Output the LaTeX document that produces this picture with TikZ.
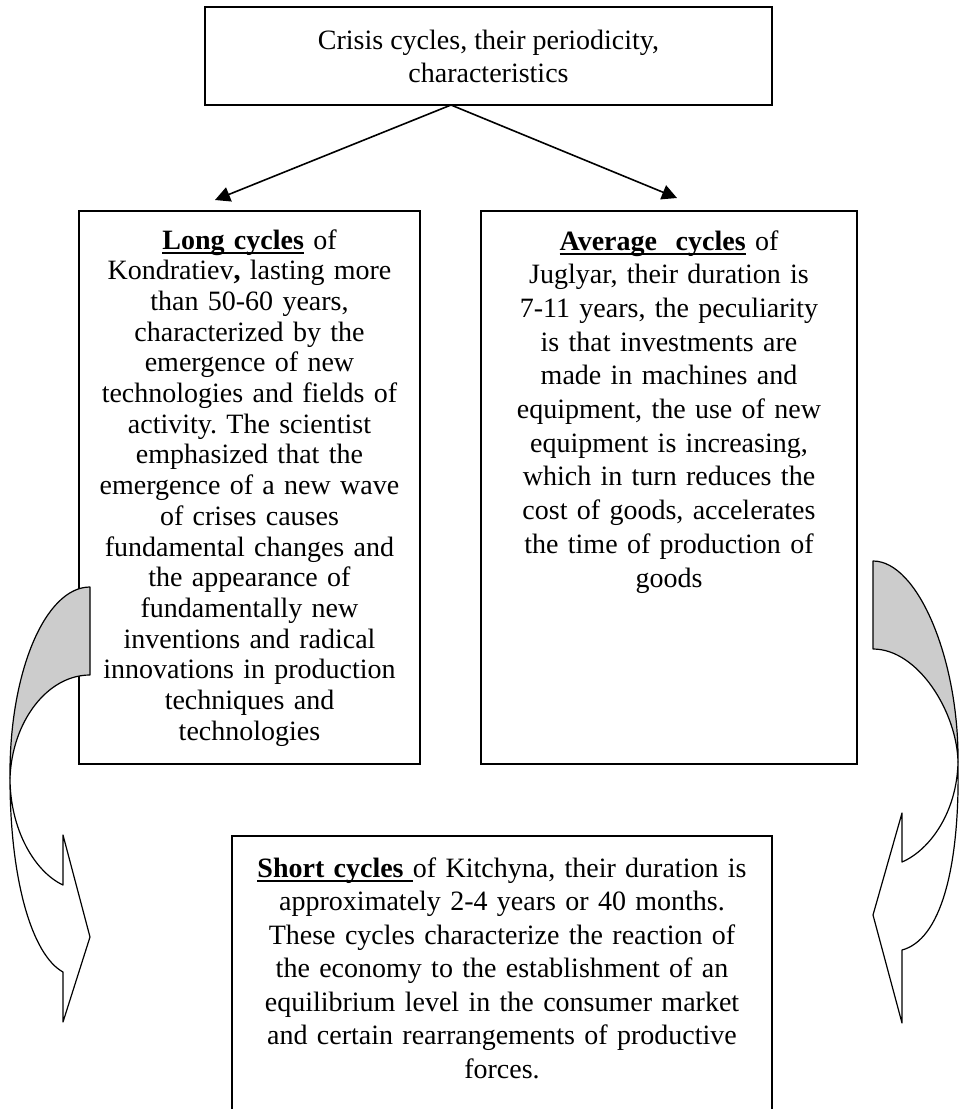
\documentclass[tikz,border=0pt]{standalone}
\usepackage{fontspec}
\setmainfont{Liberation Serif}
\frenchspacing
\newsavebox\ulbox
\newcommand\uword[1]{\sbox\ulbox{#1}\rlap{\rule[-2.5pt]{\wd\ulbox}{0.9pt}}\usebox\ulbox}
\usetikzlibrary{arrows.meta,positioning}

\begin{document}
\begin{tikzpicture}
  [x=0.5pt,y=-0.5pt,
   every node/.style={draw,rectangle,line width=0.6pt,outer sep=0pt,
     inner xsep=4pt,inner ysep=0pt,align=center},
   txt/.style={font=\fontsize{14}{#1}\selectfont},
   arr/.style={line width=0.8pt,-{Triangle[length=7.5pt,width=7.5pt]}},
   bentarrow/.style={draw,line width=0.6pt,line join=round}]
  \useasboundingbox (0,0) rectangle (964,1109);
  \clip (0,0) rectangle (964,1109);

  \node[txt=16.5pt,line width=1.1pt,minimum width=283.5pt,minimum height=49pt,
    anchor=north west] (crisis) at (205,7)
    {Crisis cycles, their periodicity,\\characteristics};
  \node[txt=15.35pt,text width=162.5pt,text height=19pt,text depth=257.5pt,
    anchor=north west] (long) at (79,211)
    {\uword{\textbf{Long cycles}} of\\
     Kondratiev\textbf{,} lasting more\\
     than 50-60 years,\\
     characterized by the\\
     emergence of new\\
     technologies and fields of\\
     activity. The scientist\\
     emphasized that the\\
     emergence of a new wave\\
     of crises causes\\
     fundamental changes and\\
     the appearance of\\
     fundamentally new\\
     inventions and radical\\
     innovations in production\\
     techniques and\\
     technologies};
  \node[txt=16.85pt,text width=180pt,text height=19.5pt,text depth=257pt,
    anchor=north west] (average) at (481,211)
    {\uword{\textbf{Average\ \ cycles}} of\\
     Juglyar, their duration is\\
     7-11 years, the peculiarity\\
     is that investments are\\
     made in machines and\\
     equipment, the use of new\\
     equipment is increasing,\\
     which in turn reduces the\\
     cost of goods, accelerates\\
     the time of production of\\
     goods};
  \node[txt=16.75pt,text width=262pt,text height=20.5pt,text depth=130pt,
    anchor=north west] (short) at (232,836)
    {\uword{\textbf{Short cycles}\ }of Kitchyna, their duration is\\
     approximately 2-4 years or 40 months.\\
     These cycles characterize the reaction of\\
     the economy to the establishment of an\\
     equilibrium level in the consumer market\\
     and certain rearrangements of productive\\
     forces.};

  \coordinate (fork) at ([xshift=-18.75pt]crisis.south);
  \foreach \to/\dx/\dy in {long/-17.25pt/5.5pt,average/4pt/6.5pt}
    \draw[arr] (fork) -- ([xshift=\dx,yshift=\dy]\to.north);

  \filldraw[bentarrow,fill=black!20] (90,587) .. controls (45,587) and (9,673) .. (10,778)
    .. controls (12,722) and (47,675) .. (90,675) -- cycle;
  \filldraw[bentarrow,fill=white] (10,778) .. controls (10,880) and (32,955) .. (63,972)
    -- (63,1022) -- (90,937) -- (63,835) -- (63,885)
    .. controls (35,872) and (10,830) .. (10,778) -- cycle;

  \filldraw[bentarrow,fill=black!20] (873,561) .. controls (918,561) and (959,660) .. (958,762)
    .. controls (957,712) and (918,649) .. (873,649) -- cycle;
  \filldraw[bentarrow,fill=white] (958,762) .. controls (960,870) and (940,940) .. (902,950)
    -- (902,1023) -- (873,915) -- (902,813) -- (902,862)
    .. controls (930,850) and (957,812) .. (958,762) -- cycle;
\end{tikzpicture}
\end{document}
